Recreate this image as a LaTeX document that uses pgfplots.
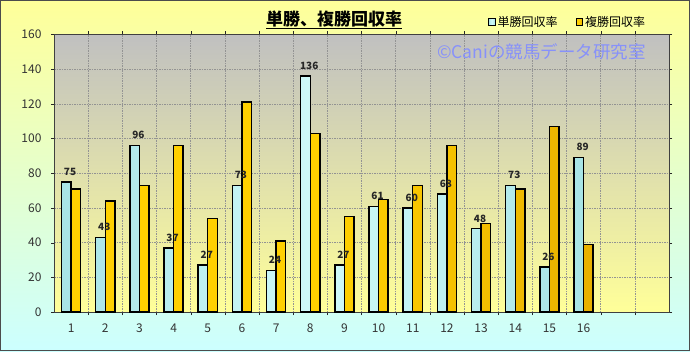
\documentclass[border=0pt]{standalone}
\usepackage{fontspec}
\setmainfont{Noto Sans CJK JP}
\usepackage{pgfplots}
\pgfplotsset{compat=1.18}
\definecolor{bgtop}{HTML}{FFFF99}
\definecolor{bgbot}{HTML}{CCFFFF}
\definecolor{patop}{HTML}{C0C0C0}
\definecolor{pabot}{HTML}{FFFF99}
\definecolor{cyanbar}{HTML}{D0FAFA}
\definecolor{cyanedge}{HTML}{A8E4E6}
\definecolor{goldbar}{HTML}{FFD000}
\definecolor{goldedge}{HTML}{E8B000}
\definecolor{wm}{RGB}{135,145,250}
\definecolor{ticktext}{HTML}{333333}
\begin{document}
\begin{tikzpicture}
\useasboundingbox (0,0) rectangle (690pt,351pt);
\shade[top color=bgtop, bottom color=bgbot] (0,0) rectangle (690pt,351pt);
\draw[line width=1.2pt, gray!60!black] (0.6pt,0.6pt) rectangle (689.4pt,350.4pt);
\begin{axis}[
  at={(54pt,39pt)}, anchor=south west,
  scale only axis, width=615pt, height=277.5pt,
  xmin=0.5, xmax=18.5, ymin=0, ymax=160,
  ytick={0,20,...,160},
  xtick={1,...,16},
  minor xtick={1.5,2.5,...,17.5},
  xminorgrids, ymajorgrids,
  grid style={dash pattern=on 1.5pt off 1pt, gray!85, line width=0.5pt},
  minor grid style={dash pattern=on 1.5pt off 1pt, gray!85, line width=0.5pt},
  axis background/.style={top color=patop, bottom color=pabot},
  axis line style={gray!50!black, line width=0.8pt},
  tick align=outside,
  major tick length=3pt, minor tick length=3pt,
  major x tick style={draw=none},
  tick style={gray!30!black},
  /pgf/number format/assume math mode=true,
  ticklabel style={font=\fontsize{12}{12}\selectfont, text=ticktext},
  xticklabel style={yshift=-5pt},
  yticklabel style={xshift=-6pt},
  legend style={at={(0.835,1.045)}, anchor=center, draw=none, fill=none,
    legend columns=2, font=\fontsize{12}{12}\selectfont,
    /tikz/every even column/.append style={column sep=16pt}},
  legend image code/.code={\draw[#1, draw=black, line width=1pt] (0pt,-3.2pt) rectangle (6.5pt,3.2pt);},
]
\addplot[ybar, bar width=9.6pt, bar shift=-4.8pt, draw=black, line width=1.4pt,
  left color=cyanedge, right color=cyanedge, middle color=cyanbar,
  nodes near coords,
  every node near coord/.append style={font=\bfseries\fontsize{10}{10}\selectfont, text=black!85, xshift=-1pt, yshift=2.5pt}]
coordinates {(1,75) (2,43) (3,96) (4,37) (5,27) (6,73) (7,24) (8,136) (9,27) (10,61) (11,60) (12,68) (13,48) (14,73) (15,26) (16,89)};
\addlegendentry{単勝回収率}
\addplot[ybar, bar width=9.6pt, bar shift=4.8pt, draw=black, line width=1.4pt,
  left color=goldbar, right color=goldedge, middle color=goldbar]
coordinates {(1,71) (2,64) (3,73) (4,96) (5,54) (6,121) (7,41) (8,103) (9,55) (10,65) (11,73) (12,96) (13,51) (14,71) (15,107) (16,39)};
\addlegendentry{複勝回収率}
\end{axis}
\node[font=\bfseries\fontsize{17}{17}\selectfont, text=black] at (334pt,331pt) {\underline{単勝、複勝回収率}};
\node[font=\fontsize{17.5}{17.5}\selectfont, text=wm, anchor=west, inner sep=0pt] at (437pt,299pt) {©Caniの競馬データ研究室};
\end{tikzpicture}
\end{document}
